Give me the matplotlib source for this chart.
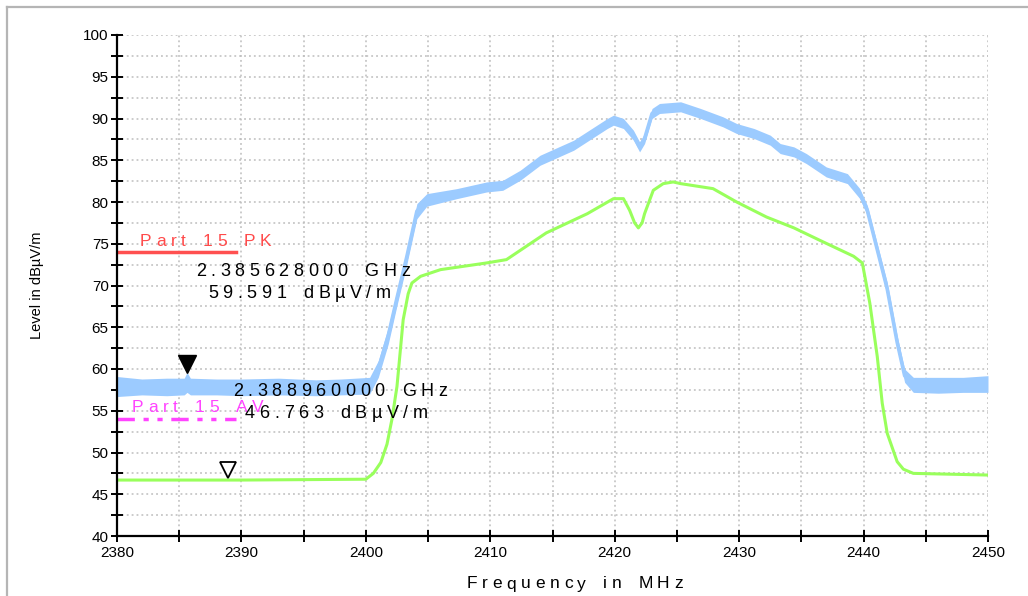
import matplotlib
matplotlib.use("Agg")
import matplotlib.pyplot as plt
from matplotlib.lines import Line2D
from matplotlib.transforms import ScaledTranslation
from matplotlib.font_manager import FontProperties
import numpy as np

# peak trace (blue): frequency, lower / upper edge of the noise band
pk_freq = [2380, 2382, 2384, 2385.4, 2385.628, 2385.9, 2388, 2390, 2393, 2396, 2398, 2400.3,
           2401.0, 2401.8, 2402.5, 2403.3, 2404.1, 2404.9, 2407.3, 2409.7, 2411.0, 2412.4,
           2414.0, 2416.7, 2419.4, 2419.9, 2420.7, 2421.5, 2422.0, 2422.4, 2423.0, 2423.6,
           2425.3, 2426.9, 2428.7, 2429.8, 2431.2, 2432.5, 2433.3, 2434.4, 2435.4, 2437.0,
           2438.7, 2439.7, 2440.3, 2441.1, 2441.9, 2442.7, 2443.3, 2444.0, 2446, 2448, 2450]
pk_lo = [56.7, 56.9, 56.8, 56.9, 57.2, 56.9, 56.9, 56.8, 56.9, 56.8, 56.9, 57.0,
         59.0, 63.0, 67.6, 72.6, 78.0, 79.5, 80.4, 81.2, 81.4, 82.6,
         84.4, 86.2, 88.8, 89.2, 88.8, 87.4, 86.0, 87.0, 90.0, 90.6,
         90.8, 90.0, 89.0, 88.2, 87.6, 86.8, 85.8, 85.4, 84.6, 83.0,
         82.2, 80.4, 78.4, 73.6, 68.8, 62.4, 58.4, 57.2, 57.1, 57.2, 57.2]
pk_hi = [59.1, 58.8, 58.9, 58.9, 59.6, 58.9, 58.8, 58.8, 58.9, 58.7, 58.8, 59.0,
         61.0, 65.0, 69.4, 74.4, 79.8, 81.0, 81.6, 82.4, 82.6, 83.8,
         85.6, 87.4, 90.0, 90.4, 90.0, 88.6, 87.2, 88.2, 91.2, 91.8,
         92.0, 91.2, 90.2, 89.4, 88.8, 88.0, 87.0, 86.6, 85.8, 84.2,
         83.4, 81.6, 79.6, 75.0, 70.4, 64.0, 60.0, 59.0, 59.0, 59.0, 59.2]

# average trace (green)
av_freq = [2380, 2390, 2400, 2400.6, 2401.2, 2401.7, 2402.1, 2402.5, 2403.0, 2403.4, 2403.7,
           2404.4, 2406.0, 2409.7, 2411.3, 2414.5, 2417.8, 2419.9, 2420.7, 2421.2, 2421.6,
           2421.9, 2422.2, 2422.4, 2423.1, 2423.9, 2424.7, 2425.3, 2427.9, 2429.8, 2432.2,
           2434.4, 2436.5, 2439.2, 2439.9, 2440.5, 2441.1, 2441.5, 2441.9, 2442.7, 2443.2,
           2444.0, 2450]
av_lvl = [46.7, 46.7, 46.8, 47.5, 48.8, 51.0, 54.0, 57.9, 65.9, 69.0, 70.3,
          71.1, 71.9, 72.7, 73.1, 76.3, 78.6, 80.4, 80.4, 79.0, 77.5,
          76.9, 77.5, 78.6, 81.4, 82.2, 82.4, 82.2, 81.6, 80.0, 78.2,
          76.9, 75.4, 73.5, 72.7, 67.9, 61.5, 55.9, 52.3, 48.9, 48.0,
          47.5, 47.3]

# limit lines
lim_freq = [2380, 2389.6]
lim_pk = 74.0
lim_av = 54.0

# marker readouts
mk1 = (2385.628, 59.591)
mk2 = (2388.960, 46.763)

W, H = 1028, 596
fig = plt.figure(figsize=(W / 100, H / 100), dpi=100)
ax = fig.add_axes([117 / W, 1 - 536 / H, (988 - 117) / W, (536 - 35) / H])

blue = "#9ccbff"
green = "#99ff5c"

ax.fill_between(pk_freq, pk_lo, pk_hi, color=blue, lw=0, zorder=3)
mid = [(a + b) / 2 for a, b in zip(pk_lo, pk_hi)]
ax.plot(pk_freq, mid, color=blue, lw=2.6, zorder=3)
ax.plot(av_freq, av_lvl, color=green, lw=2.2, zorder=4)

ax.plot(lim_freq, [lim_pk, lim_pk], color="#ff5050", lw=2.5, zorder=5)
ax.plot(lim_freq, [lim_av, lim_av], color="#ff44ff", lw=2.5,
        ls=(0, (5, 2.5, 1.5, 2.5, 1.5, 2.5)), zorder=5)

up = ScaledTranslation(0, 8.5 / 100, fig.dpi_scale_trans)
ax.plot([mk1[0]], [mk1[1]], marker="v", ms=13, color="black", ls="none",
        transform=ax.transData + up, zorder=6, clip_on=False)
up2 = ScaledTranslation(0, 9.5 / 100, fig.dpi_scale_trans)
ax.plot([mk2[0]], [mk2[1]], marker="v", ms=12, mfc="white", mec="black", mew=1.3,
        ls="none", transform=ax.transData + up2, zorder=6, clip_on=False)

ax.set_xlim(2380, 2450)
ax.set_ylim(40, 100)
ax.set_xticks(np.arange(2380, 2451, 10))
ax.set_xticks(np.arange(2385, 2450, 10), minor=True)
ax.set_yticks(np.arange(40, 101, 5))
ax.set_yticks(np.arange(42.5, 100, 5), minor=True)
ax.grid(True, which="both", color="#bdbdbd", ls=(0, (1.2, 2)), lw=1.1, zorder=0)
ax.set_axisbelow(True)
for s in ["top", "right"]:
    ax.spines[s].set_visible(False)
for s in ["left", "bottom"]:
    ax.spines[s].set_linewidth(1.6)
    ax.spines[s].set_zorder(7)
ax.tick_params(which="both", direction="inout", length=8, width=1.4, color="black")
ax.tick_params(axis="y", pad=2)
ax.tick_params(axis="x", pad=3)
for lab in ax.get_xticklabels() + ax.get_yticklabels():
    lab.set_fontfamily("Liberation Sans")
    lab.set_fontsize(11)

renderer = fig.canvas.get_renderer()


def spaced(x, y, s, size, gap, color="black"):
    # letter-spaced text placed in figure pixels (x left edge, y centre)
    prop = FontProperties(family="Liberation Sans", size=size)
    off = 0.0
    for ch in s:
        w, _, _ = renderer.get_text_width_height_descent(ch if ch != " " else "a", prop, ismath=False)
        if ch == " ":
            w = w * 0.8
        else:
            fig.text((x + off) / W, 1 - y / H, ch, fontproperties=prop, color=color,
                     ha="left", va="center", zorder=8)
        off += w + gap


spaced(140, 242, "Part 15 PK", 12.5, 4.6, color="#ff4a4a")
spaced(132, 407, "Part 15 AV", 12.5, 4.6, color="#ff44ff")
spaced(196, 271, "2.385628000 GHz", 13, 4.6)
spaced(208, 294, "59.591 dB\u00b5V/m", 13, 4.6)
spaced(233, 391, "2.388960000 GHz", 13, 4.6)
spaced(245, 413, "46.763 dB\u00b5V/m", 13, 4.6)
spaced(467, 584, "Frequency in MHz", 12.5, 4.6)

fig.text(37 / W, 1 - 285 / H, "Level in dB\u00b5V/m", rotation=90, ha="center", va="center",
         fontfamily="Liberation Sans", fontsize=10.5)

fig.add_artist(Line2D([6.5 / W, 6.5 / W], [0, 1 - 6.5 / H], color="#b5b5b5", lw=1.6))
fig.add_artist(Line2D([6.5 / W, 1], [1 - 6.5 / H, 1 - 6.5 / H], color="#b5b5b5", lw=1.6))

fig.savefig("out.png", dpi=100)
